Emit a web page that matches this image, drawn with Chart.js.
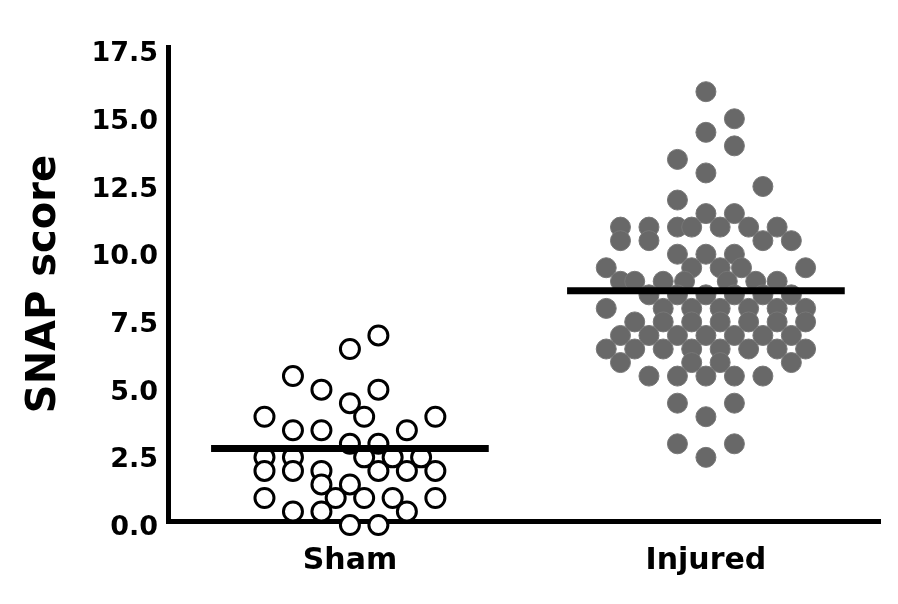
<!DOCTYPE html>
<html>
<head>
<meta charset="utf-8">
<title>SNAP score</title>
<script src="https://cdn.jsdelivr.net/npm/chart.js@4.4.1/dist/chart.umd.min.js"></script>
<style>
  html, body { margin: 0; padding: 0; background: #fff; }
  #wrap { width: 898px; height: 604px; }
</style>
</head>
<body>
<div id="wrap"><canvas id="snap" width="898" height="604"></canvas></div>
<script>
const categories = ["Sham", "Injured"];
const yTicks = [0, 2.5, 5, 7.5, 10, 12.5, 15, 17.5];

// scores, one row per score level,
// slots = which half-column the dot sits in (0 = centre of the group)
const shamScores = [
  7.0,
  6.5,
  5.5,
  5.0, 5.0,
  4.5,
  4.0, 4.0, 4.0,
  3.5, 3.5, 3.5,
  3.0, 3.0,
  2.5, 2.5, 2.5, 2.5, 2.5,
  2.0, 2.0, 2.0, 2.0, 2.0, 2.0,
  1.5, 1.5,
  1.0, 1.0, 1.0, 1.0, 1.0,
  0.5, 0.5, 0.5,
  0.0, 0.0
];
const shamSlots = [
  2,
  0,
  -4,
  -2, 2,
  0,
  -6, 1, 6,
  -4, -2, 4,
  0, 2,
  -6, -4, 1, 3, 5,
  -6, -4, -2, 2, 4, 6,
  -2, 0,
  -6, -1, 1, 3, 6,
  -4, -2, 4,
  0, 2
];

const injuredScores = [
  16.0,
  15.0,
  14.5,
  14.0,
  13.5,
  13.0,
  12.5,
  12.0,
  11.5, 11.5,
  11.0, 11.0, 11.0, 11.0, 11.0, 11.0, 11.0,
  10.5, 10.5, 10.5, 10.5,
  10.0, 10.0, 10.0,
  9.5, 9.5, 9.5, 9.5, 9.5,
  9.0, 9.0, 9.0, 9.0, 9.0, 9.0, 9.0,
  8.5, 8.5, 8.5, 8.5, 8.5, 8.5,
  8.0, 8.0, 8.0, 8.0, 8.0, 8.0, 8.0,
  7.5, 7.5, 7.5, 7.5, 7.5, 7.5, 7.5,
  7.0, 7.0, 7.0, 7.0, 7.0, 7.0, 7.0,
  6.5, 6.5, 6.5, 6.5, 6.5, 6.5, 6.5, 6.5,
  6.0, 6.0, 6.0, 6.0,
  5.5, 5.5, 5.5, 5.5, 5.5,
  4.5, 4.5,
  4.0,
  3.0, 3.0,
  2.5
];
const injuredSlots = [
  0,
  2,
  0,
  2,
  -2,
  0,
  4,
  -2,
  0, 2,
  -6, -4, -2, -1, 1, 3, 5,
  -6, -4, 4, 6,
  -2, 0, 2,
  -7, -1, 1, 2.5, 7,
  -6, -5, -3, -1.5, 1.5, 3.5, 5,
  -4, -2, 0, 2, 4, 6,
  -7, -3, -1, 1, 3, 5, 7,
  -5, -3, -1, 1, 3, 5, 7,
  -6, -4, -2, 0, 2, 4, 6,
  -7, -5, -3, -1, 1, 3, 5, 7,
  -6, -1, 1, 6,
  -4, -2, 0, 2, 4,
  -2, 2,
  0,
  -2, 2,
  0
];

const groupMeans = [2.83, 8.65];

const slotWidth = 0.04;
const meanHalfWidth = 0.39;
const fontFamily = "'DejaVu Sans', Arial, sans-serif";

function toPoints(groupIndex, scores, slots) {
  return scores.map((s, i) => ({ x: groupIndex + slots[i] * slotWidth, y: s }));
}

function meanLine(groupIndex) {
  return {
    label: categories[groupIndex] + " mean",
    data: [
      { x: groupIndex - meanHalfWidth, y: groupMeans[groupIndex] },
      { x: groupIndex + meanHalfWidth, y: groupMeans[groupIndex] }
    ],
    showLine: true,
    borderColor: "#000",
    borderWidth: 7,
    borderCapStyle: "butt",
    pointRadius: 0,
    order: 0,
    clip: false
  };
}

new Chart("snap", {
  type: "scatter",
  data: {
    datasets: [
      meanLine(0),
      meanLine(1),
      {
        label: categories[0],
        data: toPoints(0, shamScores, shamSlots),
        pointRadius: 9.5,
        pointBorderWidth: 3,
        pointBorderColor: "#000",
        pointBackgroundColor: "#fff",
        order: 1,
        clip: false
      },
      {
        label: categories[1],
        data: toPoints(1, injuredScores, injuredSlots),
        pointRadius: 10,
        pointBorderWidth: 1,
        pointBorderColor: "#777",
        pointBackgroundColor: "#686868",
        order: 1,
        clip: false
      }
    ]
  },
  options: {
    responsive: false,
    animation: false,
    devicePixelRatio: 1,
    layout: { padding: { top: 47, right: 18, bottom: 0, left: 0 } },
    plugins: {
      legend: { display: false },
      tooltip: { enabled: false }
    },
    scales: {
      x: {
        type: "linear",
        min: -0.511,
        max: 1.489,
        grid: { display: false, drawTicks: false },
        border: { display: true, color: "#000", width: 5 },
        ticks: {
          padding: 22,
          color: "#000",
          font: { family: fontFamily, weight: "bold", size: 30 },
          callback: (v) => categories[v]
        },
        afterBuildTicks: (scale) => {
          scale.ticks = categories.map((c, i) => ({ value: i }));
        },
        afterFit: (scale) => { scale.height = 83; }
      },
      y: {
        min: 0.15,
        max: 17.65,
        grid: { display: false, drawTicks: false },
        border: { display: true, color: "#000", width: 5 },
        ticks: {
          padding: 10,
          labelOffset: 3,
          color: "#000",
          font: { family: fontFamily, weight: "bold", size: 27 },
          callback: (v) => v.toFixed(1)
        },
        afterBuildTicks: (scale) => {
          scale.ticks = yTicks.map((v) => ({ value: v }));
        },
        afterFit: (scale) => { scale.width = 168; },
        title: {
          display: true,
          text: "SNAP score",
          color: "#000",
          font: { family: fontFamily, weight: "bold", size: 40 },
          padding: { top: 21, bottom: 0 }
        }
      }
    }
  }
});
</script>
</body>
</html>
